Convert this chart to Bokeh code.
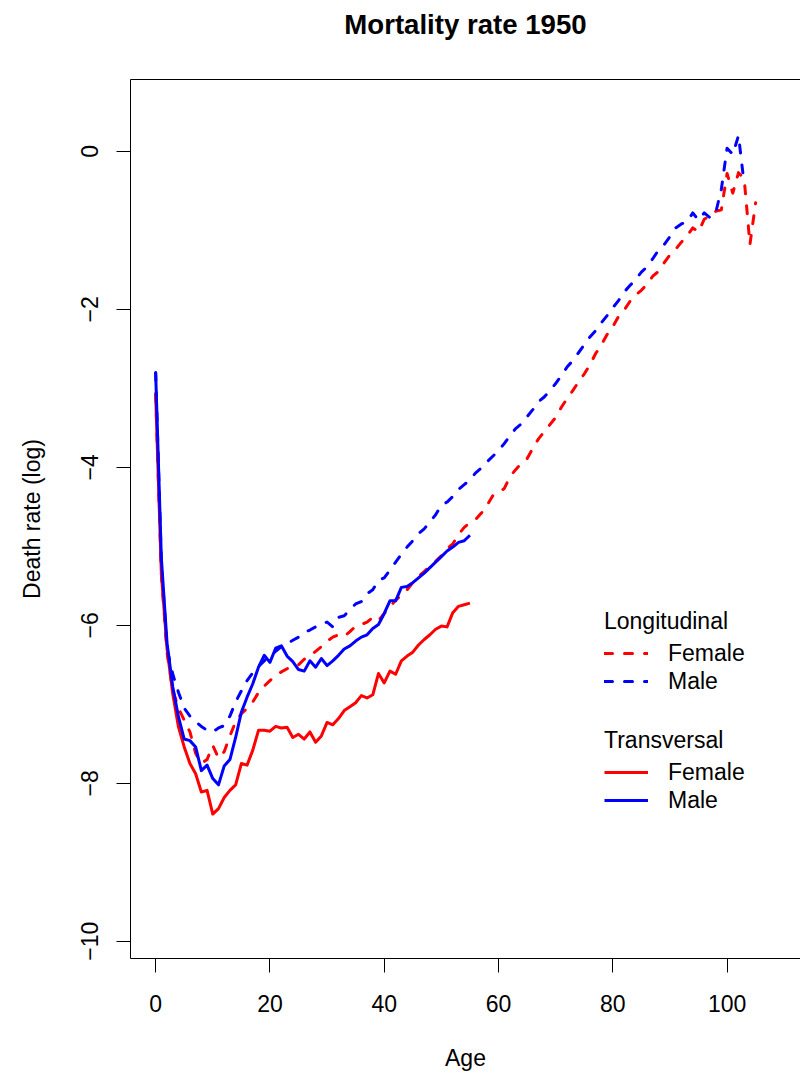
from bokeh.plotting import figure
from bokeh.models import (Range1d, FixedTicker, LinearAxis, Legend, LegendItem)
from bokeh.embed import file_html
from bokeh.resources import INLINE

# ---------------- data ----------------
title_text = "Mortality rate 1950"
x_label = "Age"
y_label = "Death rate (log)"
x_ticks = [0, 20, 40, 60, 80, 100]
y_ticks = [-10, -8, -6, -4, -2, 0]

ages_long_female = list(range(0, 106))
long_female = [
    -3.07, -5.35, -6.35, -6.82, -7.05, -7.20, -7.35, -7.62, -7.75, -7.70,
    -7.52, -7.68, -7.60, -7.40, -7.22, -7.12, -7.05, -6.97, -6.85, -6.77,
    -6.70, -6.64, -6.59, -6.55, -6.53, -6.50, -6.43, -6.39, -6.33, -6.27,
    -6.20, -6.15, -6.12, -6.14, -6.08, -6.01, -5.99, -5.96, -5.90, -5.94,
    -5.85, -5.77, -5.68, -5.62, -5.55, -5.46, -5.38, -5.32, -5.25, -5.19,
    -5.12, -5.03, -4.97, -4.85, -4.76, -4.70, -4.66, -4.58, -4.48, -4.36,
    -4.32, -4.27, -4.12, -4.03, -3.95, -3.89, -3.76, -3.64, -3.55, -3.46,
    -3.37, -3.24, -3.13, -3.03, -2.92, -2.82, -2.70, -2.56, -2.45, -2.32,
    -2.22, -2.09, -2.01, -1.90, -1.82, -1.76, -1.68, -1.58, -1.52, -1.41,
    -1.31, -1.24, -1.15, -1.07, -0.97, -1.02, -0.86, -0.82, -0.76, -0.74,
    -0.28, -0.53, -0.27, -0.35, -1.18, -0.65,
]

ages_long_male = list(range(0, 104))
long_male = [
    -2.80, -5.20, -6.30, -6.62, -6.85, -7.05, -7.15, -7.22, -7.28, -7.33,
    -7.35, -7.30, -7.27, -7.15, -6.97, -6.83, -6.70, -6.60, -6.52, -6.45,
    -6.38, -6.33, -6.27, -6.23, -6.19, -6.15, -6.09, -6.06, -6.02, -5.98,
    -5.96, -6.02, -5.90, -5.88, -5.80, -5.73, -5.70, -5.60, -5.55, -5.43,
    -5.40, -5.30, -5.20, -5.10, -5.01, -4.93, -4.84, -4.78, -4.69, -4.60,
    -4.48, -4.44, -4.37, -4.28, -4.22, -4.16, -4.07, -4.01, -3.93, -3.86,
    -3.79, -3.70, -3.60, -3.51, -3.45, -3.36, -3.27, -3.17, -3.11, -3.03,
    -2.94, -2.84, -2.73, -2.65, -2.55, -2.45, -2.35, -2.27, -2.17, -2.08,
    -1.98, -1.89, -1.78, -1.70, -1.62, -1.53, -1.46, -1.36, -1.25, -1.18,
    -1.08, -0.97, -0.92, -0.89, -0.78, -0.87, -0.78, -0.84, -0.78, -0.48,
    0.04, -0.04, 0.20, -0.42,
]

ages_trans = list(range(0, 56))
trans_female = [
    -3.07, -5.35, -6.30, -6.87, -7.29, -7.54, -7.75, -7.88, -8.11, -8.09,
    -8.39, -8.32, -8.18, -8.09, -8.02, -7.75, -7.77, -7.58, -7.33, -7.33,
    -7.34, -7.28, -7.30, -7.29, -7.42, -7.38, -7.44, -7.35, -7.48, -7.40,
    -7.23, -7.26, -7.18, -7.08, -7.03, -6.98, -6.89, -6.92, -6.88, -6.61,
    -6.73, -6.58, -6.62, -6.45, -6.39, -6.34, -6.25, -6.18, -6.12, -6.05,
    -6.01, -6.02, -5.84, -5.76, -5.74, -5.72,
]
trans_male = [
    -2.80, -5.15, -6.23, -6.78, -7.16, -7.44, -7.46, -7.54, -7.84, -7.77,
    -7.94, -8.02, -7.78, -7.70, -7.42, -7.10, -6.91, -6.74, -6.53, -6.38,
    -6.47, -6.29, -6.26, -6.39, -6.46, -6.56, -6.58, -6.45, -6.53, -6.42,
    -6.51, -6.45, -6.38, -6.30, -6.26, -6.20, -6.15, -6.12, -6.04, -5.99,
    -5.85, -5.69, -5.69, -5.52, -5.51, -5.46, -5.40, -5.34, -5.27, -5.20,
    -5.13, -5.06, -5.01, -4.95, -4.93, -4.86,
]

# ---------------- figure ----------------
FONT = "Liberation Sans"
p = figure(width=800, height=1074,
           x_range=Range1d(-4.4, 112.85), y_range=Range1d(-10.218, 0.909),
           output_backend="svg", toolbar_location=None,
           min_border_left=130, min_border_right=0,
           min_border_top=79, min_border_bottom=116)
p.outline_line_color = None
p.grid.visible = False
p.background_fill_color = "white"
p.border_fill_color = "white"
p.title.text = ""

for ax in (p.xaxis[0], p.yaxis[0]):
    ax.axis_line_color = "black"
    ax.axis_line_width = 1
    ax.major_tick_line_color = "black"
    ax.major_tick_in = 0
    ax.major_tick_out = 14
    ax.minor_tick_line_color = None
    ax.major_label_text_font = FONT
    ax.major_label_text_font_size = "23px"
    ax.major_label_text_color = "black"
    ax.axis_label_text_font = FONT
    ax.axis_label_text_font_size = "23px"
    ax.axis_label_text_font_style = "normal"
    ax.axis_label_text_color = "black"

p.xaxis.ticker = FixedTicker(ticks=x_ticks)
p.yaxis.ticker = FixedTicker(ticks=y_ticks)
p.yaxis.major_label_overrides = {t: (str(t).replace("-", "\u2212")) for t in y_ticks}
p.xaxis.axis_label = x_label
p.yaxis.axis_label = y_label
p.xaxis.major_label_standoff = 22
p.xaxis.axis_label_standoff = 30
p.yaxis.major_label_orientation = "vertical"
p.yaxis.major_label_standoff = 18
p.yaxis.axis_label_standoff = 34

# top edge of the plot box, carrying the chart title as its label
top = LinearAxis(ticker=FixedTicker(ticks=[]), axis_line_color="black",
                 major_tick_line_color=None, minor_tick_line_color=None,
                 major_tick_in=0, major_tick_out=0,
                 major_label_text_font_size="0px", major_label_standoff=0,
                 axis_label=title_text, axis_label_text_font=FONT,
                 axis_label_text_font_size="27.6px",
                 axis_label_text_font_style="bold",
                 axis_label_text_color="black", axis_label_standoff=40)
p.add_layout(top, "above")

DASH = "8 12"
r_lf = p.line(ages_long_female, long_female, line_color="#FF0000", line_width=3,
              line_dash=DASH, line_cap="round", line_join="round")
r_lm = p.line(ages_long_male, long_male, line_color="#0000FF", line_width=3,
              line_dash=DASH, line_cap="round", line_join="round")
r_tf = p.line(ages_trans, trans_female, line_color="#FF0000", line_width=3,
              line_join="round")
r_tm = p.line(ages_trans, trans_male, line_color="#0000FF", line_width=3,
              line_join="round")

def make_legend(title, items, loc):
    lg = Legend(items=items, title=title, location=loc,
                padding=0, margin=0, spacing=0,
                glyph_width=44, glyph_height=28, label_height=28,
                label_standoff=20,
                label_text_font=FONT, label_text_font_size="23px",
                label_text_color="black",
                title_text_font=FONT, title_text_font_size="23px",
                title_text_font_style="normal", title_text_color="black",
                title_standoff=4,
                background_fill_alpha=0, border_line_alpha=0)
    return lg

leg1 = make_legend("Longitudinal",
                   [LegendItem(label="Female", renderers=[r_lf]),
                    LegendItem(label="Male", renderers=[r_lm])], (474, 263))
leg2 = make_legend("Transversal",
                   [LegendItem(label="Female", renderers=[r_tf]),
                    LegendItem(label="Male", renderers=[r_tm])], (474, 144))
p.add_layout(leg1, "center")
p.add_layout(leg2, "center")

open("out.html", "w").write(file_html(p, INLINE))
